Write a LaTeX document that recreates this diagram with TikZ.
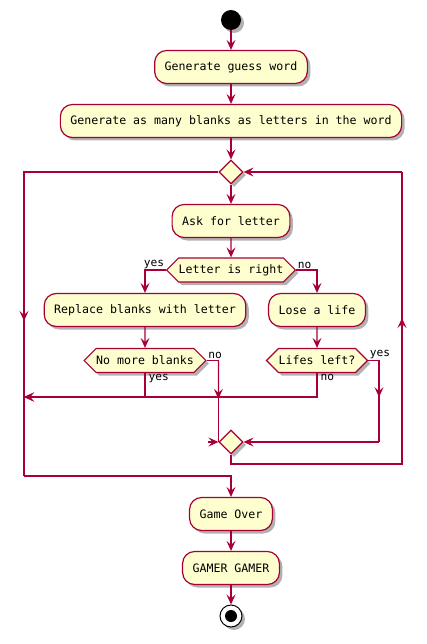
\documentclass[tikz,border=0pt]{standalone}
\usepackage{fontspec}
\setmonofont{DejaVu Sans Mono}
\usetikzlibrary{shapes.geometric,shapes.symbols,shadows,arrows.meta,calc}
\definecolor{umlred}{HTML}{A80036}
\definecolor{umlfill}{HTML}{FEFECE}
\begin{document}
\begin{tikzpicture}[x=1pt, y=-1pt,
		every node/.style={font=\ttfamily\fontsize{11.6}{14}\selectfont},
		shade/.style={drop shadow={shadow xshift=3pt, shadow yshift=-3pt, opacity=0.3, fill=black}},
		act/.style={draw=umlred, fill=umlfill, line width=1.2pt, rounded corners=12pt, minimum height=33pt, inner xsep=10pt, shade},
		cond/.style={signal, signal to=west and east, signal pointer angle=90, draw=umlred, fill=umlfill, line width=1.2pt, minimum height=24pt, inner xsep=0pt, inner ysep=2pt, shade},
		gate/.style={diamond, draw=umlred, fill=umlfill, line width=1.2pt, minimum width=24pt, minimum height=24pt, inner sep=0pt, shade},
		startdot/.style={circle, fill=black, minimum size=20pt, inner sep=0pt, shade},
		enddot/.style={circle, draw=black, fill=white, line width=1pt, minimum size=22pt, inner sep=0pt, shade, path picture={\fill[black] (path picture bounding box.center) circle (6pt);}},
		tip/.tip={Stealth[length=10pt, width=9pt, inset=4pt]},
		wire/.style={draw=umlred, line width=1.2pt},
		arr/.style={-{tip[fill=umlred]}},
		lab/.style={text=black, font=\ttfamily\fontsize{11.2}{13}\selectfont, inner sep=1pt}
	]
	\useasboundingbox (0, 0) rectangle (426, 644);
	\node[startdot] (S) at (231, 20) {};
	\node[act] (G) at (231, 67) {Generate guess word};
	\node[act] (N) at (231, 121) {Generate as many blanks as letters in the word};
	\node[gate] (L) at (231, 172) {};
	\node[act] (A) at (231, 221) {Ask for letter};
	\node[cond] (Q) at (231, 270) {Letter is right};
	\node[act] (R) at (145, 310) {Replace blanks with letter};
	\node[act] (F) at (317, 310) {Lose a life};
	\node[cond] (B) at (145, 360.5) {No more blanks};
	\node[cond] (C) at (317, 360.5) {Lifes left?};
	\node[gate] (M) at (231, 442) {};
	\node[act] (O) at (231, 514) {Game Over};
	\node[act] (W) at (231, 568) {GAMER GAMER};
	\node[enddot] (E) at (231, 616) {};
	\coordinate (J) at (24, 397);
	\coordinate (LA) at (24, 172);
	\coordinate (LB) at (24, 476);
	\coordinate (LC) at (231, 476);
	\coordinate (RA) at (402, 464);
	\coordinate (RB) at (402, 172);
	\coordinate (CA) at (379, 360.5);
	\draw[wire, arr] (S) -- (G);
	\draw[wire, arr] (G) -- (N);
	\draw[wire, arr] (N) -- (L);
	\draw[wire, arr] (L) -- (A);
	\draw[wire, arr] (A) -- (Q);
	\draw[wire, arr] (Q.west) -| (R.north) node[lab, pos=0, anchor=south east] {yes};
	\draw[wire, arr] (Q.east) -| (F.north) node[lab, pos=0, anchor=south west] {no};
	\draw[wire, arr] (R) -- (B);
	\draw[wire, arr] (F) -- (C);
	\draw[wire, arr] (B.south) |- (J) node[lab, pos=0, anchor=north west, xshift=2pt] {yes};
	\draw[wire, arr] (C.south) |- (J) node[lab, pos=0, anchor=north west, xshift=2pt] {no};
	\draw[wire] (B.east) -- (B.east -| M.west) node[lab, at start, anchor=south west] {no} -- (M.west);
	\draw[wire, arr] (B.east -| M.west) -- ($(B.east -| M.west)!0.47!(M.west)$);
	\draw[wire, arr] ([xshift=-10pt]M.west) -- (M.west);
	\draw[wire] (C.east) -- (CA) node[lab, at start, anchor=south west] {yes} -- (CA |- M.east);
	\draw[wire, arr] (CA) -- ($(CA)!0.45!(CA |- M.east)$);
	\draw[wire, arr] (CA |- M.east) -- (M.east);
	\draw[wire] (M.south) |- (RA) -- (RB);
	\draw[wire, arr] (RA) -- ($(RA)!0.5!(RB)$);
	\draw[wire, arr] (RB) -- (L.east);
	\draw[wire] (L.west) -- (LA) -- (LB);
	\draw[wire, arr] (LA) -- ($(LA)!0.49!(LB)$);
	\draw[wire, arr] (LB) -- (LC) -- (O.north);
	\draw[wire, arr] (O) -- (W);
	\draw[wire, arr] (W) -- (E);
\end{tikzpicture}
\end{document}
